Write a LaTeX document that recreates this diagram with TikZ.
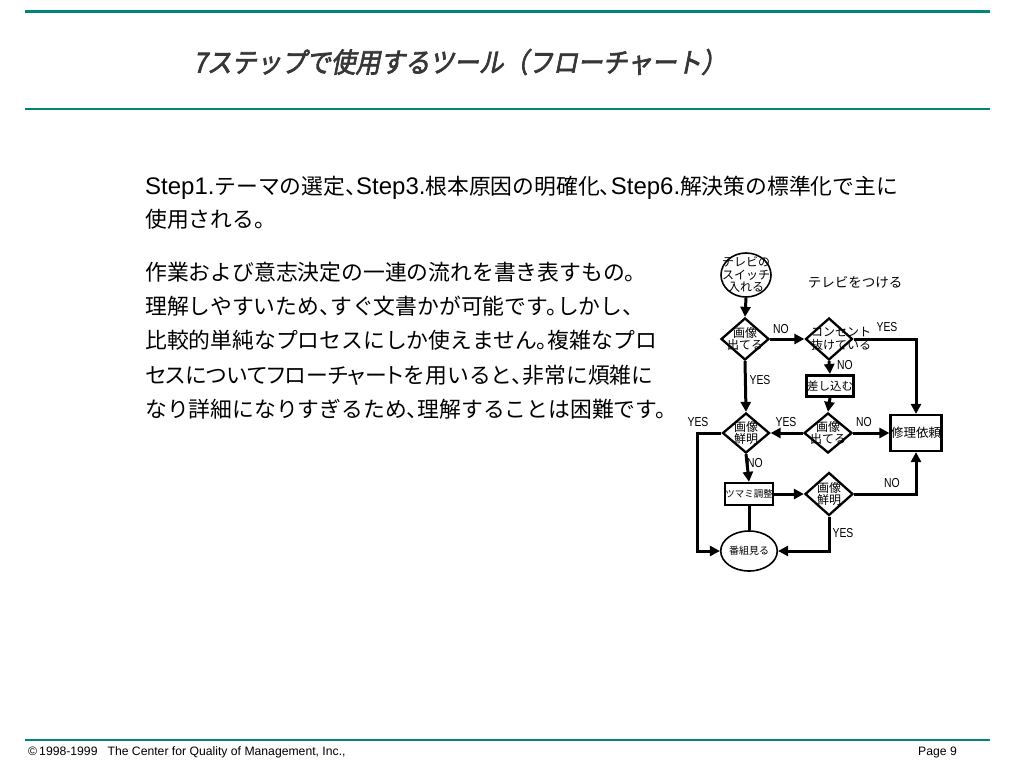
\documentclass[tikz,border=0pt]{standalone}
\usepackage{fontspec}
\setmainfont{Noto Sans CJK JP}
\newfontfamily\jp{Noto Sans CJK JP}
\newfontfamily\jpp[RawFeature=+palt]{Noto Sans CJK JP}
\newfontfamily\jptitle[FakeSlant=0.2,FakeBold=2.5,FakeStretch=0.9]{Noto Sans CJK JP}
\newfontfamily\lat[Scale=1.1]{Liberation Sans}
\newfontfamily\latf{Liberation Sans}
\newfontfamily\latn[FakeStretch=0.8]{Liberation Sans}
\usetikzlibrary{shapes.geometric,arrows.meta}
\definecolor{teal1}{RGB}{0,133,120}
\definecolor{titlegray}{RGB}{55,55,55}
\newcommand{\St}[1]{{\lat #1}}
\newcommand{\tn}{、\kern-0.5em}
\newcommand{\mr}{。\kern-0.5em}
\tikzset{
  conn/.style={line width=3pt},
  arr/.style={conn,-{Triangle[length=10pt,width=10pt]}},
  dia/.style={diamond, draw, line width=2.3pt, inner sep=0pt, minimum width=48pt, minimum height=42pt},
  boxn/.style={rectangle, draw, line width=2.4pt, inner sep=0.5pt, font=\jp\fontsize{11.5}{12}\selectfont},
  ell/.style={ellipse, draw, line width=1.6pt, inner sep=0pt, minimum width=50pt, minimum height=44pt},
  ftxt/.style={font=\jp\fontsize{12}{12.5}\selectfont, inner sep=0pt},
  lbl/.style={font=\latn\fontsize{13}{13}\selectfont, inner sep=0pt},
  body/.style={font=\jp\fontsize{21.8}{26}\selectfont, inner sep=0pt, anchor=west},
  foot/.style={font=\latf\fontsize{12.2}{14}\selectfont, inner sep=0pt},
}
\begin{document}
\begin{tikzpicture}[x=1pt,y=-1pt]
\useasboundingbox (0,0) rectangle (1024,768);
\fill[white] (0,0) rectangle (1024,768);

% rules
\draw[teal1, line width=3pt] (25,12) -- (990,12);
\draw[teal1, line width=1.5pt] (25,109) -- (990,109);
\draw[teal1, line width=1.5pt] (25,740) -- (990,740);

% title
\node[anchor=west, inner sep=0pt, text=titlegray, font=\jptitle\fontsize{27.5}{30}\selectfont] (title) at (193,62) {7ステップで使用するツール（フローチャート）};

% body text
\node[body] (p1a) at (145,188) {\St{Step1.}テーマの選定\tn\St{Step3.}根本原因の明確化\tn\St{Step6.}解決策の標準化で主に};
\node[body] (p1b) at (145,219) {使用される。};
\node[body] (p2a) at (145,272) {作業および意志決定の一連の流れを書き表すもの。};
\node[body] (p2b) at (145,306) {理解しやすいため\tn すぐ文書かが可能です\mr しかし、};
\node[body] (p2c) at (145,340) {比較的単純なプロセスにしか使えません\mr 複雑なプロ};
\node[body] (p2d) at (145,375) {{\jpp セスについてフローチャート}を用いると\tn 非常に煩雑に};
\node[body] (p2e) at (145,409) {なり詳細になりすぎるため\tn 理解することは困難です。};

% flowchart nodes
\node[ell, label={[ftxt,align=center]center:{テレビの\\スイッチ\\入れる}}] (s) at (746,275) {};
\node[ftxt, font=\jp\fontsize{13.5}{14}\selectfont] (ttl) at (855,282) {テレビをつける};
\node[dia, label={[ftxt,align=center]center:{画像\\出てる}}] (d1) at (745,339) {};
\node[dia, minimum width=47pt] (d2) at (829,339) {};
\node[ftxt, align=left, anchor=west] (d2t) at (811,339) {コンセント\\抜けている};
\node[boxn, line width=3pt, minimum width=46pt, minimum height=21pt] (plug) at (830,386) {差し込む};
\node[dia, minimum height=40pt, label={[ftxt,align=center]center:{画像\\出てる}}] (d3) at (828,433) {};
\node[dia, minimum width=47pt, minimum height=40pt, label={[ftxt,align=center]center:{画像\\鮮明}}] (d4) at (746,433) {};
\node[boxn, line width=2.2pt, minimum width=51pt, minimum height=36pt, font=\jp\fontsize{12.5}{13}\selectfont] (rep) at (916,433) {修理依頼};
\node[boxn, minimum width=47pt, minimum height=22pt, font=\jp\fontsize{9.5}{11}\selectfont] (knob) at (749,494) {ツマミ調整};
\node[dia, minimum height=43pt, label={[ftxt,align=center]center:{画像\\鮮明}}] (d5) at (829,494) {};
\node[ell, minimum height=40pt] (tv) at (749,551) {番組見る};

% connectors
\draw[arr] (s.south) -- (d1.north);
\draw[arr] (d1.east) -- (d2.west);
\draw[arr] (d2.east) -| (rep.north);
\draw[arr] (d2.south) -- (plug.north);
\draw[arr] (plug.south) -- (d3.north);
\draw[arr] (d1.south) -- (d4.north);
\draw[arr] (d3.west) -- (d4.east);
\draw[arr] (d3.east) -- (rep.west);
\coordinate (yl) at (697,433);
\draw[arr] (d4.west) -- (yl) |- (tv.west);
\draw[arr] (d4.south) -- (knob.north);
\draw[arr] (knob.east) -- (d5.west);
\draw[arr] (d5.east) -| (rep.south);
\draw[arr] (d5.south) |- (tv.east);
\draw[conn] (knob.south) -- (tv.north);

% branch labels
\node[lbl] (l1) at (781,329) {NO};
\node[lbl] (l2) at (887,327) {YES};
\node[lbl] (l3) at (845,365) {NO};
\node[lbl] (l4) at (760,380) {YES};
\node[lbl] (l5) at (786,422) {YES};
\node[lbl] (l6) at (864,422) {NO};
\node[lbl] (l7) at (698,422) {YES};
\node[lbl] (l8) at (755,463) {NO};
\node[lbl] (l9) at (892,483) {NO};
\node[lbl] (l10) at (843,533) {YES};

% footer
\node[foot, anchor=west] (cp) at (28,752) {©\,1998-1999\hspace{10pt}The Center for Quality of Management, Inc.,};
\node[foot, anchor=east] (pg) at (957,752) {Page 9};
\end{tikzpicture}
\end{document}
